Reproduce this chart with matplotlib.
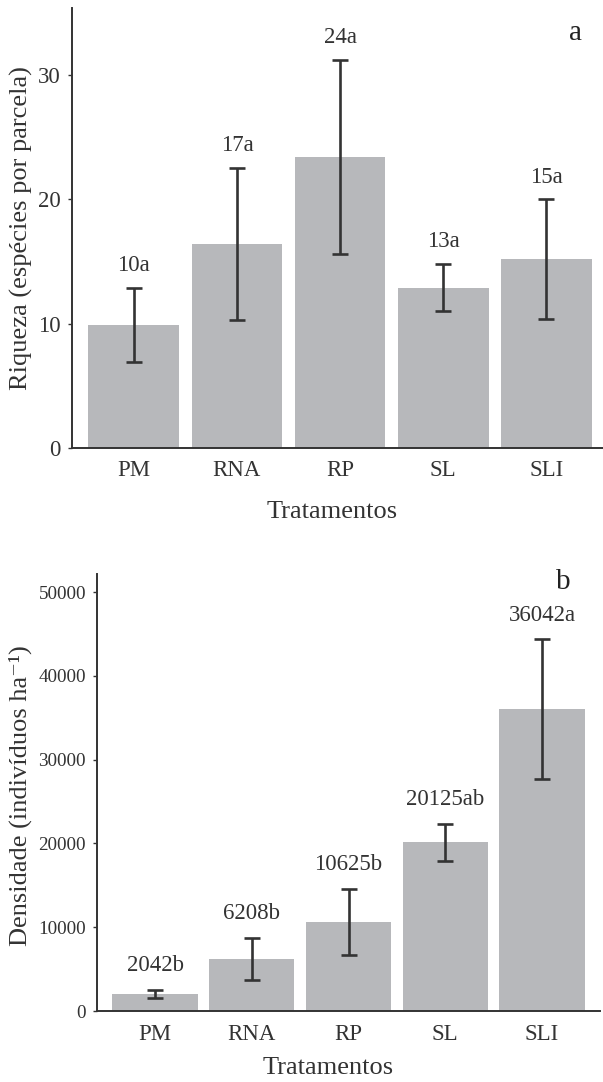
import numpy as np
import matplotlib
matplotlib.use("Agg")
from matplotlib import pyplot as plt

plt.rcParams['font.family'] = ['Liberation Serif', 'DejaVu Serif']

tratamentos = ["PM", "RNA", "RP", "SL", "SLI"]

# painel a - riqueza
riqueza = [9.9, 16.4, 23.4, 12.9, 15.2]
riqueza_erro = [3.0, 6.1, 7.8, 1.9, 4.8]
riqueza_rotulos = ["10a", "17a", "24a", "13a", "15a"]

# painel b - densidade
densidade = [2042, 6208, 10625, 20125, 36042]
densidade_erro = [450, 2500, 3900, 2200, 8300]
densidade_rotulos = ["2042b", "6208b", "10625b", "20125ab", "36042a"]

cor_barra = "#b7b8bb"
cor_linha = "#333333"
W, H = 603, 1082

fig = plt.figure(figsize=(W / 100, H / 100), dpi=100)
ax1 = fig.add_axes([72 / W, 1 - 448 / H, 1 - 72 / W, (448 - 8) / H])
ax2 = fig.add_axes([97 / W, 1 - 1011 / H, (600 - 97) / W, (1011 - 574) / H])


def painel(ax, valores, erros, rotulos, deslocamento, ylim, xlim, yticks, tick_fs, letra, letra_xy, ylabel):
    x = np.arange(len(tratamentos))
    ax.bar(x, valores, width=0.88, color=cor_barra, zorder=1)
    ax.errorbar(x, valores, yerr=erros, fmt="none", ecolor=cor_linha,
                elinewidth=1.9, capsize=6, capthick=1.9, zorder=2)
    for xi, v, e, r in zip(x, valores, erros, rotulos):
        ax.text(xi, v + e + deslocamento, r, ha="center", va="center",
                fontsize=16.5, color=cor_linha)
    ax.set_xlim(*xlim)
    ax.set_ylim(*ylim)
    ax.set_xticks(x)
    ax.set_xticklabels(tratamentos, fontsize=16.5, color=cor_linha)
    ax.set_yticks(yticks)
    ax.tick_params(axis="y", labelsize=tick_fs, colors=cor_linha, length=3, width=1, pad=5)
    ax.tick_params(axis="x", length=0, pad=9, colors=cor_linha)
    for s in ["top", "right"]:
        ax.spines[s].set_visible(False)
    for s in ["left", "bottom"]:
        ax.spines[s].set_color(cor_linha)
        ax.spines[s].set_linewidth(1.4)
    ax.set_ylabel(ylabel, fontsize=19, color=cor_linha)
    ax.set_xlabel("Tratamentos", fontsize=19, color=cor_linha)
    fig.text(letra_xy[0] / W, 1 - letra_xy[1] / H, letra, fontsize=21,
             ha="center", va="center", color="#222222")


painel(ax1, riqueza, riqueza_erro, riqueza_rotulos, 1.8, (0, 35.4), (-0.6, 4.55),
       [0, 10, 20, 30], 16.5, "a", (575, 33), "Riqueza (espécies por parcela)")
painel(ax2, densidade, densidade_erro, densidade_rotulos, 2900, (0, 52150), (-0.6, 4.6),
       [0, 10000, 20000, 30000, 40000, 50000], 13.8, "b", (563, 582),
       "Densidade (indivíduos ha⁻¹)")

# posições dos títulos em coordenadas de figura
ax1.yaxis.set_label_coords(21 / W, 1 - 228 / H, transform=fig.transFigure)
ax2.yaxis.set_label_coords(20 / W, 1 - 796 / H, transform=fig.transFigure)
ax1.xaxis.set_label_coords(332 / W, 1 - 512 / H, transform=fig.transFigure)
ax2.xaxis.set_label_coords(328 / W, 1 - 1068 / H, transform=fig.transFigure)
for a in (ax1, ax2):
    a.xaxis.label.set_va("center")
    a.yaxis.label.set_va("center")

fig.savefig("out.png", dpi=100, facecolor="white")
